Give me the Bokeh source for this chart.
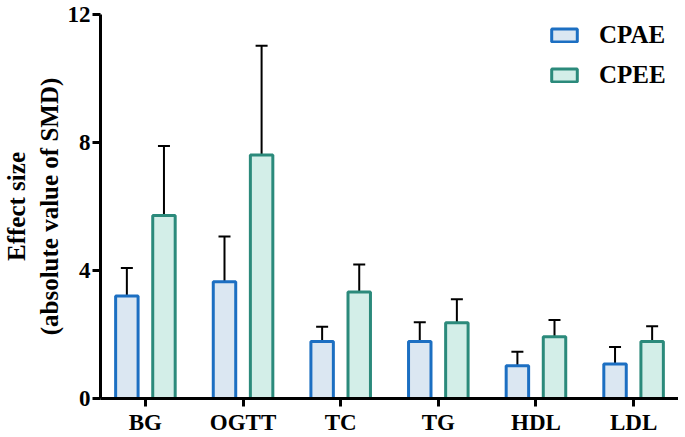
from bokeh.plotting import figure
from bokeh.models import ColumnDataSource, Whisker, TeeHead, FixedTicker, Legend, LegendItem
from bokeh.transform import dodge
from bokeh.embed import file_html
from bokeh.resources import INLINE

categories = ["BG", "OGTT", "TC", "TG", "HDL", "LDL"]
cpae = [3.20, 3.65, 1.78, 1.78, 1.02, 1.08]
cpae_err = [4.08, 5.06, 2.24, 2.38, 1.46, 1.61]
cpee = [5.72, 7.61, 3.33, 2.37, 1.93, 1.78]
cpee_err = [7.89, 11.02, 4.19, 3.10, 2.45, 2.26]
y_ticks = [0, 4, 8, 12]

xpos = list(range(len(categories)))
src = ColumnDataSource(dict(x=xpos, cpae=cpae, cpae_err=cpae_err, cpee=cpee, cpee_err=cpee_err))

FONT = "Liberation Serif"

p = figure(width=678, height=437, output_backend="svg", toolbar_location=None,
           x_range=(-0.46, 5.46), y_range=(0, 12),
           min_border_left=98, min_border_right=0, min_border_top=14, min_border_bottom=38)
p.outline_line_color = None
p.xgrid.visible = False
p.ygrid.visible = False

c1_line, c1_fill = "#1c6fc2", "#dbe7f2"
c2_line, c2_fill = "#2b8a7b", "#d3eee8"

w = 0.23
r1 = p.vbar(x=dodge("x", -0.19), top="cpae", width=w, bottom=0, source=src,
            fill_color=c1_fill, line_color=c1_line, line_width=3)
r2 = p.vbar(x=dodge("x", 0.19), top="cpee", width=w, bottom=0, source=src,
            fill_color=c2_fill, line_color=c2_line, line_width=3)

for off, lo, hi in [(-0.19, "cpae", "cpae_err"), (0.19, "cpee", "cpee_err")]:
    wk = Whisker(base=dodge("x", off), lower=lo, upper=hi, source=src, dimension="height",
                 line_color="black", line_width=2,
                 upper_head=TeeHead(size=12, line_color="black", line_width=2),
                 lower_head=None)
    p.add_layout(wk)

# axes
for ax in (p.xaxis[0], p.yaxis[0]):
    ax.axis_line_width = 3
    ax.axis_line_color = "black"
    ax.major_tick_line_width = 3
    ax.major_tick_line_color = "black"
    ax.major_tick_in = 0
    ax.minor_tick_line_color = None
    ax.major_label_text_font = FONT
    ax.major_label_text_font_style = "bold"
    ax.major_label_text_font_size = "23px"
    ax.major_label_text_color = "black"

p.xaxis.ticker = FixedTicker(ticks=xpos)
p.xaxis.major_label_overrides = {i: c for i, c in enumerate(categories)}
p.xaxis.major_tick_out = 8
p.xaxis.major_label_standoff = 3
p.xaxis.axis_label = None

p.yaxis.ticker = FixedTicker(ticks=y_ticks)
p.yaxis.major_tick_out = 8
p.yaxis.major_label_standoff = 2
p.yaxis.axis_label = "Effect size\n(absolute value of SMD)"
p.yaxis.axis_label_text_font = FONT
p.yaxis.axis_label_text_font_style = "bold"
p.yaxis.axis_label_text_font_size = "25px"
p.yaxis.axis_label_text_color = "black"
p.yaxis.axis_label_standoff = 2

legend = Legend(items=[LegendItem(label="CPAE", renderers=[r1]),
                       LegendItem(label="CPEE", renderers=[r2])],
                location=(448, 309), margin=0, padding=0, spacing=12,
                glyph_width=32, glyph_height=16, label_standoff=19,
                label_text_font=FONT, label_text_font_style="bold",
                label_text_font_size="25px", label_text_color="black",
                border_line_color=None, background_fill_alpha=0)
p.add_layout(legend)

open("out.html", "w").write(file_html(p, INLINE))
